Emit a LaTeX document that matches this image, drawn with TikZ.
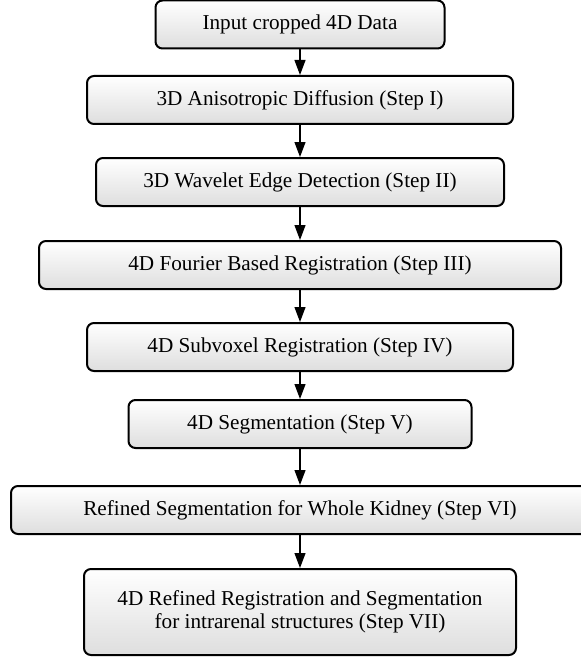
\documentclass[tikz,border=0pt]{standalone}
\usepackage{fontspec}
\setmainfont{Liberation Serif}
\usepackage{tikz}
\usetikzlibrary{
    arrows.meta,
    positioning
}
\tikzset{
    stepbox/.style={draw, line width=1pt, rounded corners=3.5pt,
        top color=white, bottom color=black!13,
        minimum height=24pt, align=center, inner sep=2pt,
        font=\fontsize{10.6}{11.3}\selectfont},
    flow/.style={-{Triangle[length=7.5pt,width=5.5pt]}, line width=0.6pt}
}

\begin{document}
\begin{tikzpicture}[x=0.5pt, y=-0.5pt]
        \useasboundingbox (0,0) rectangle (580,658);

        \draw (300,24.5) node[stepbox, minimum width=144.5pt](input){Input cropped 4D Data};
        \draw (300,100) node[stepbox, minimum width=213pt](diff){3D Anisotropic Diffusion (Step I)};
        \draw (300,182) node[stepbox, minimum width=204pt](edge){3D Wavelet Edge Detection (Step II)};
        \draw (300,265) node[stepbox, minimum width=261pt](fourier){4D Fourier Based Registration (Step III)};
        \draw (300,347) node[stepbox, minimum width=213pt](subvox){4D Subvoxel Registration (Step IV)};
        \draw (300,424) node[stepbox, minimum width=171.5pt](seg){4D Segmentation (Step V)};
        \draw (300,510) node[stepbox, minimum width=289pt](kidney){Refined Segmentation for Whole Kidney (Step VI)};
        \draw (300,612) node[stepbox, minimum width=216pt, minimum height=43pt](intra){4D Refined Registration and Segmentation\\for intrarenal structures (Step VII)};

        \draw[flow] (input) to (diff);
        \draw[flow] (diff) to (edge);
        \draw[flow] (edge) to (fourier);
        \draw[flow] (fourier) to (subvox);
        \draw[flow] (subvox) to (seg);
        \draw[flow] (seg) to (kidney);
        \draw[flow] (kidney) to (intra);
    \end{tikzpicture}
\end{document}
